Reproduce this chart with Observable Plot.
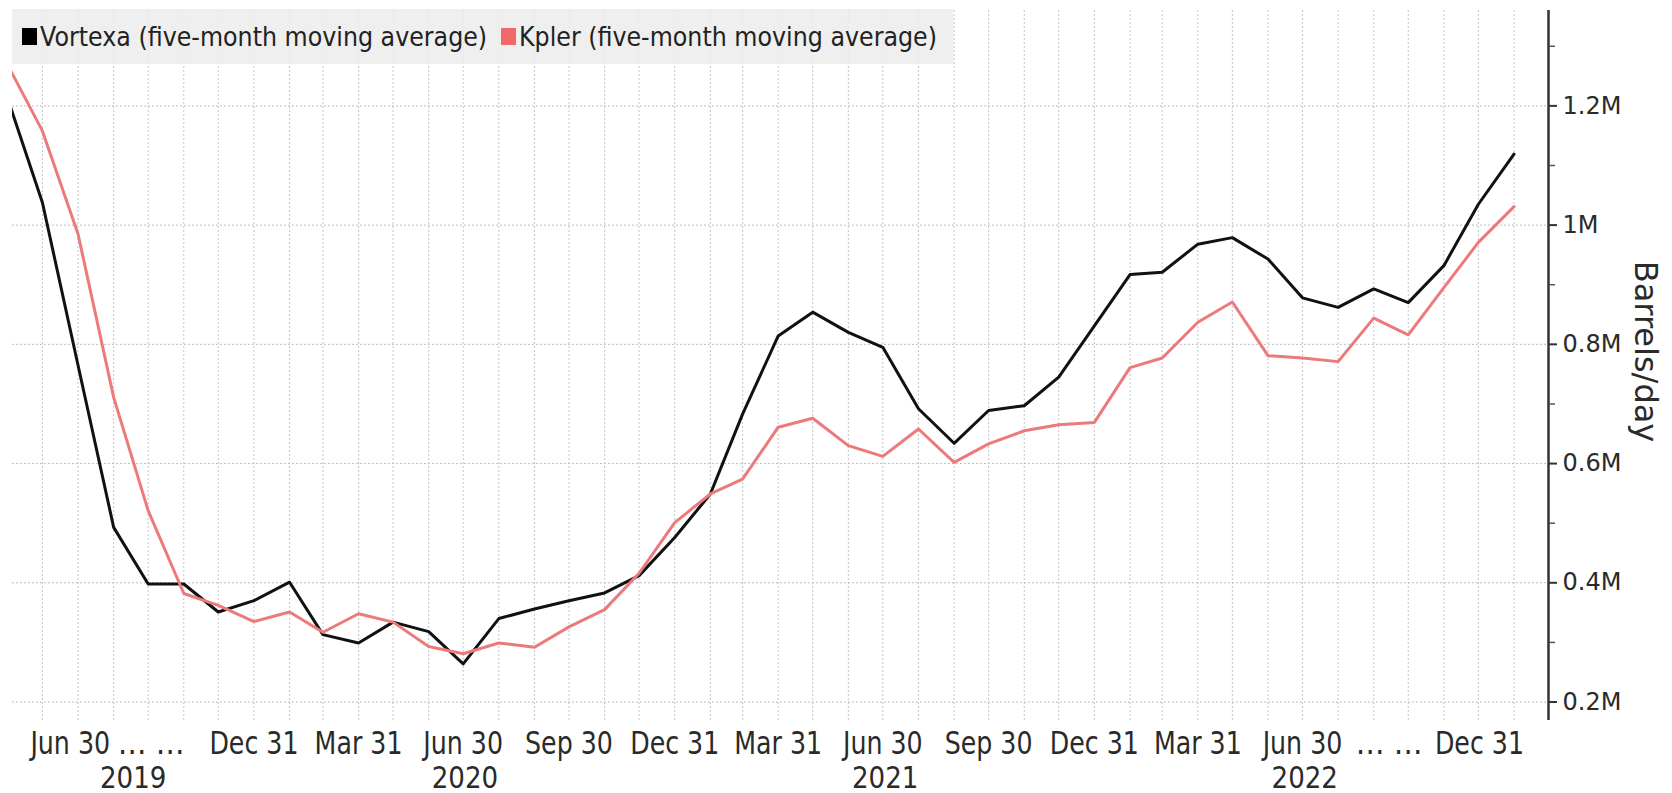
<!DOCTYPE html>
<html>
<head>
<meta charset="utf-8">
<script src="https://cdn.jsdelivr.net/npm/d3@7"></script>
<script src="https://cdn.jsdelivr.net/npm/@observablehq/plot@0.6"></script>
<style>
  html, body { margin: 0; padding: 0; background: #fff; }
  #wrap { position: relative; width: 1672px; height: 793px; overflow: hidden; }
  #legend {
    position: absolute; left: 12px; top: 9px; height: 55px;
    background: rgba(236,236,236,0.85);
    display: flex; align-items: center;
    padding: 0 16px 0 10px;
    font-family: "DejaVu Sans", sans-serif;
    font-size: 27px; color: #222; white-space: nowrap;
  }
  #legend .sw { display: inline-block; width: 15px; height: 17px; margin-right: 3px; }
  #legend .item + .item { margin-left: 14px; }
  #legend .item { display: flex; align-items: center; }
  #legend .lbl { display: inline-block; transform-origin: 0 50%; }
</style>
</head>
<body>
<div id="wrap"><div id="legend"></div></div>
<script>
// ---- data (barrels/day, five-month moving averages, month-end dates) ----
const months = [
  "2019-05-31","2019-06-30","2019-07-31","2019-08-31","2019-09-30","2019-10-31","2019-11-30","2019-12-31",
  "2020-01-31","2020-02-29","2020-03-31","2020-04-30","2020-05-31","2020-06-30","2020-07-31","2020-08-31",
  "2020-09-30","2020-10-31","2020-11-30","2020-12-31",
  "2021-01-31","2021-02-28","2021-03-31","2021-04-30","2021-05-31","2021-06-30","2021-07-31","2021-08-31",
  "2021-09-30","2021-10-31","2021-11-30","2021-12-31",
  "2022-01-31","2022-02-28","2022-03-31","2022-04-30","2022-05-31","2022-06-30","2022-07-31","2022-08-31",
  "2022-09-30","2022-10-31","2022-11-30","2022-12-31"
];
const vortexa = [
  1211000,1038000,765000,493000,398000,398000,351000,370000,
  401000,313000,299000,334000,318000,264000,340000,356000,
  370000,383000,412000,476000,
  549000,683000,814000,854000,820000,795000,692000,634000,
  689000,697000,745000,831000,
  917000,921000,968000,979000,943000,878000,862000,893000,
  870000,932000,1035000,1119000
];
const kpler = [
  1268000,1158000,985000,711000,521000,382000,362000,335000,
  351000,317000,348000,334000,293000,281000,299000,292000,
  326000,355000,416000,501000,
  549000,574000,661000,676000,630000,612000,658000,602000,
  633000,655000,665000,669000,
  761000,777000,837000,871000,781000,777000,771000,844000,
  816000,895000,971000,1031000
];
const seriesNames = ["Vortexa (five-month moving average)", "Kpler (five-month moving average)"];
const lineColors = ["#111111", "#ec7a7a"];
const swatchColors = ["#000000", "#f26868"];

// axis ticks and labels
const xDomain = ["2019-06-04", "2023-01-30"];
const quarterTicks = ["2019-06-30","2019-09-30","2019-12-31","2020-03-31","2020-06-30","2020-09-30","2020-12-31",
  "2021-03-31","2021-06-30","2021-09-30","2021-12-31","2022-03-31","2022-06-30","2022-09-30","2022-12-31"];
const quarterLabels = ["Jun 30","\u2026 \u2026","Dec 31","Mar 31","Jun 30","Sep 30","Dec 31",
  "Mar 31","Jun 30","Sep 30","Dec 31","Mar 31","Jun 30","\u2026 \u2026","Dec 31"];
const years = ["2019","2020","2021","2022"];
const yTicks = [200000, 400000, 600000, 800000, 1000000, 1200000];
const yMinorTicks = [300000, 500000, 700000, 900000, 1100000, 1300000];
const yDomain = [169000, 1360000];
const yTitle = "Barrels/day";

// ---- build ----
const parse = d3.utcParse("%Y-%m-%d");
const rows = [];
months.forEach((m, i) => rows.push({date: parse(m), value: vortexa[i], series: seriesNames[0]}));
months.forEach((m, i) => rows.push({date: parse(m), value: kpler[i], series: seriesNames[1]}));
const dStart = parse(xDomain[0]), dEnd = parse(xDomain[1]);
const gridMonths = months.map(parse).filter(d => d >= dStart && d <= dEnd);
const qt = quarterTicks.map((t, i) => ({date: parse(t), label: quarterLabels[i]}));
const n = qt.length;
const qFirst = [qt[0]], qLast = [qt[n - 1]];
const qEllA = [qt[1]], qEllB = [qt[n - 2]];
const qMid = qt.slice(2, n - 2);
const yearMarks = years.map(y => {
  const a = new Date(Math.max(Date.UTC(+y, 0, 1), dStart));
  const b = new Date(Math.min(Date.UTC(+y, 11, 31), dEnd));
  return {date: new Date((+a + +b) / 2), label: y};
});
const fmtM = d => (d / 1e6) + "M";

const font = "DejaVu Sans, sans-serif";
const txtColor = "#2a2a2a";
const xl = {x: "date", text: "label", frameAnchor: "bottom", lineAnchor: "top", dy: 11,
  fontSize: 32, fontFamily: font, fill: txtColor};

const chart = Plot.plot({
  width: 1672,
  height: 793,
  marginLeft: 12,
  marginRight: 124,
  marginTop: 10,
  marginBottom: 73,
  style: {background: "transparent", color: txtColor, overflow: "visible"},
  x: {type: "utc", domain: [dStart, dEnd], axis: null},
  y: {domain: yDomain, axis: null},
  marks: [
    Plot.gridX(gridMonths, {stroke: "#c4c4c4", strokeOpacity: 1, strokeDasharray: "2,2", strokeWidth: 1}),
    Plot.gridY(yTicks, {stroke: "#bdbdbd", strokeOpacity: 1, strokeDasharray: "2,2", strokeWidth: 1}),
    Plot.lineY(rows.filter(r => r.series === seriesNames[0]), {x: "date", y: "value", stroke: lineColors[0], strokeWidth: 3, clip: true}),
    Plot.lineY(rows.filter(r => r.series === seriesNames[1]), {x: "date", y: "value", stroke: lineColors[1], strokeWidth: 3, clip: true}),
    Plot.ruleX([dEnd], {stroke: "#333", strokeWidth: 2.5}),
    Plot.axisY({anchor: "right", label: null, ticks: yTicks, tickSize: 8, tickPadding: 6, tickFormat: fmtM,
      fontSize: 24, fontFamily: font, stroke: "#333", strokeWidth: 2, fill: txtColor}),
    Plot.axisY({anchor: "right", label: null, ticks: yMinorTicks, tickSize: 6, tickFormat: () => "", stroke: "#555", strokeWidth: 1.5}),
    Plot.text([yTitle], {text: d => d, frameAnchor: "right", textAnchor: "middle", rotate: 90, dx: 97, dy: -14,
      fontSize: 32, fontFamily: font, fill: txtColor}),
    Plot.text(qMid, xl),
    Plot.text(qEllA, {...xl, dx: 3}),
    Plot.text(qEllB, {...xl, dx: -19}),
    Plot.text(qFirst, {...xl, dx: -12, textAnchor: "start"}),
    Plot.text(qLast, {...xl, dx: 10, textAnchor: "end"}),
    Plot.text(yearMarks, {x: "date", text: "label", frameAnchor: "bottom", lineAnchor: "top", dy: 46,
      fontSize: 30, fontFamily: font, fill: txtColor})
  ]
});
chart.style.position = "absolute";
chart.style.left = "0px";
chart.style.top = "0px";
const wrap = document.getElementById("wrap");
wrap.insertBefore(chart, wrap.firstChild);

// horizontally condense the axis texts (the reference uses a narrow face):
// append a horizontal scale to each label's own transform (about its anchor)
const ellipsis = quarterLabels[1];
const xLabelSet = new Set(quarterLabels), yearSet = new Set(years);
chart.querySelectorAll("text").forEach(t => {
  const s = t.textContent;
  let k = null;
  if (s === ellipsis) k = 0.9;
  else if (xLabelSet.has(s)) k = 0.79;
  else if (yearSet.has(s)) k = 0.87;
  if (k !== null) {
    const tr = t.getAttribute("transform") || "";
    t.setAttribute("transform", `${tr} scale(${k},1)`);
  }
});

// legend (HTML, overlaid at top left of the plot)
const legend = document.getElementById("legend");
seriesNames.forEach((name, i) => {
  const item = document.createElement("span");
  item.className = "item";
  const sw = document.createElement("span");
  sw.className = "sw";
  sw.style.background = swatchColors[i];
  const lbl = document.createElement("span");
  lbl.className = "lbl";
  lbl.textContent = name;
  item.appendChild(sw);
  item.appendChild(lbl);
  legend.appendChild(item);
});
legend.querySelectorAll(".lbl").forEach(l => {
  const w = l.getBoundingClientRect().width, k = 0.88;
  l.style.transform = `scaleX(${k})`;
  l.style.marginRight = `${-(1 - k) * w}px`;
});
</script>
</body>
</html>
